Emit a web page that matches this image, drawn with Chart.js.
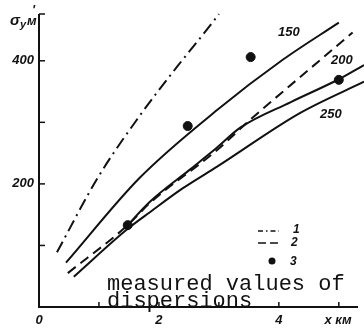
<!DOCTYPE html>
<html>
<head>
<meta charset="utf-8">
<script src="https://cdn.jsdelivr.net/npm/chart.js@4"></script>
<style>
  html, body { margin: 0; padding: 0; background: #fff; }
  #wrap { width: 364px; height: 328px; }
</style>
</head>
<body>
<div id="wrap"><canvas id="grafico"></canvas></div>
<script>
// curve 1 (dash-dot)
const curve1X = [0.30, 0.98, 1.63, 2.30, 2.90, 3.00];
const curve1Y = [89, 210, 304, 390, 463, 476];
// curve 2 (dashed)
const curve2X = [0.48, 1.48, 1.85, 2.97, 3.52, 4.30, 5.23];
const curve2Y = [55, 133, 169, 255, 304, 369, 446];
// solid curves, labelled 150 / 200 / 250
const curve150X = [0.45, 1.68, 2.97, 4.07, 5.00];
const curve150Y = [72, 210, 320, 402, 462];
const curve200X = [1.45, 1.85, 2.50, 2.97, 3.35, 4.20, 5.00, 5.42];
const curve200Y = [130, 171, 222, 259, 291, 333, 370, 393];
const curve250X = [0.58, 1.48, 1.85, 2.40, 2.97, 4.35, 5.42];
const curve250Y = [49, 127, 154, 193, 228, 315, 366];
// measured points (3)
const measX = [1.48, 2.48, 3.53, 5.00];
const measY = [133, 294, 406, 369];
// ticks
const xTicks = [1, 2, 3, 4, 5];
const xLabels = ["0", "2", "4"];
const yTicks = [100, 200, 300, 400, 476];
const yLabels = ["200", "400"];

const pts = (xs, ys) => xs.map((x, i) => ({ x: x, y: ys[i] }));

const line = (data, dash) => ({
  data: data,
  showLine: true,
  borderColor: "#111",
  borderWidth: 2,
  borderDash: dash,
  pointRadius: 0,
  cubicInterpolationMode: "monotone",
  clip: false
});

const italic = "italic bold 13px 'Liberation Sans', Arial, sans-serif";

// axes, ticks and texts drawn by hand around the scales
const desenho = {
  id: "desenho",
  afterDraw(chart) {
    const ctx = chart.ctx;
    const a = chart.chartArea;
    const sx = chart.scales.x, sy = chart.scales.y;
    ctx.save();
    ctx.strokeStyle = "#111";
    ctx.fillStyle = "#111";
    ctx.lineWidth = 2;
    ctx.setLineDash([]);
    ctx.beginPath();
    ctx.moveTo(a.left, a.top);
    ctx.lineTo(a.left, a.bottom);
    ctx.lineTo(a.right, a.bottom);
    ctx.stroke();

    ctx.lineWidth = 1.5;
    yTicks.forEach(v => {
      const y = sy.getPixelForValue(v);
      ctx.beginPath();
      ctx.moveTo(a.left, y);
      ctx.lineTo(a.left + 6, y);
      ctx.stroke();
    });
    xTicks.forEach(v => {
      const x = sx.getPixelForValue(v);
      ctx.beginPath();
      ctx.moveTo(x, a.bottom);
      ctx.lineTo(x, a.bottom - 5);
      ctx.stroke();
    });

    ctx.font = italic;
    ctx.textBaseline = "middle";
    ctx.textAlign = "right";
    yLabels.forEach(t => ctx.fillText(t, a.left - 5, sy.getPixelForValue(+t)));
    ctx.textAlign = "center";
    xLabels.forEach(t => ctx.fillText(t, sx.getPixelForValue(+t), a.bottom + 13));
    ctx.fillText("x км", 338, a.bottom + 13);

    // y axis title
    ctx.textAlign = "left";
    ctx.font = "italic bold 15px 'Liberation Sans', Arial, sans-serif";
    ctx.fillText("σ", 10, 21);
    ctx.font = "italic bold 11px 'Liberation Sans', Arial, sans-serif";
    ctx.fillText("у", 20, 25);
    ctx.font = "italic bold 13px 'Liberation Sans', Arial, sans-serif";
    ctx.fillText("м", 27, 21);
    ctx.fillText("'", 32, 10);

    // curve labels
    ctx.font = italic;
    ctx.fillText("150", 278, 32);
    ctx.fillText("200", 331, 60);
    ctx.fillText("250", 320, 114);

    // legend
    ctx.lineWidth = 1.5;
    ctx.setLineDash([5, 3, 1.5, 3]);
    ctx.beginPath(); ctx.moveTo(258, 231); ctx.lineTo(279, 231); ctx.stroke();
    ctx.setLineDash([8, 4]);
    ctx.beginPath(); ctx.moveTo(258, 243); ctx.lineTo(279, 243); ctx.stroke();
    ctx.setLineDash([]);
    ctx.beginPath(); ctx.arc(272, 261, 3.5, 0, Math.PI * 2); ctx.fill();
    ctx.font = "italic bold 12px 'Liberation Sans', Arial, sans-serif";
    ctx.fillText("1", 293, 230);
    ctx.fillText("2", 291, 243);
    ctx.fillText("3", 290, 262);

    // note
    ctx.font = "22px 'Liberation Mono', monospace";
    ctx.textBaseline = "alphabetic";
    ctx.fillText("measured values of", 107, 290);
    ctx.fillText("dispersions", 107, 307);
    ctx.restore();
  }
};

new Chart(document.getElementById("grafico"), {
  type: "scatter",
  data: {
    datasets: [
      line(pts(curve1X, curve1Y), [12, 5, 2, 5]),
      line(pts(curve2X, curve2Y), [10, 6]),
      line(pts(curve150X, curve150Y), []),
      line(pts(curve200X, curve200Y), []),
      line(pts(curve250X, curve250Y), []),
      {
        data: pts(measX, measY),
        showLine: false,
        pointRadius: 4.5,
        pointBackgroundColor: "#111",
        pointBorderColor: "#111",
        clip: false
      }
    ]
  },
  options: {
    responsive: true,
    maintainAspectRatio: false,
    animation: false,
    layout: { padding: { left: 39, right: 6, top: 14, bottom: 21 } },
    plugins: { legend: { display: false }, tooltip: { enabled: false } },
    scales: {
      x: { type: "linear", min: 0, max: 5.32, display: false },
      y: { type: "linear", min: 0, max: 476, display: false }
    }
  },
  plugins: [desenho]
});
</script>
</body>
</html>
